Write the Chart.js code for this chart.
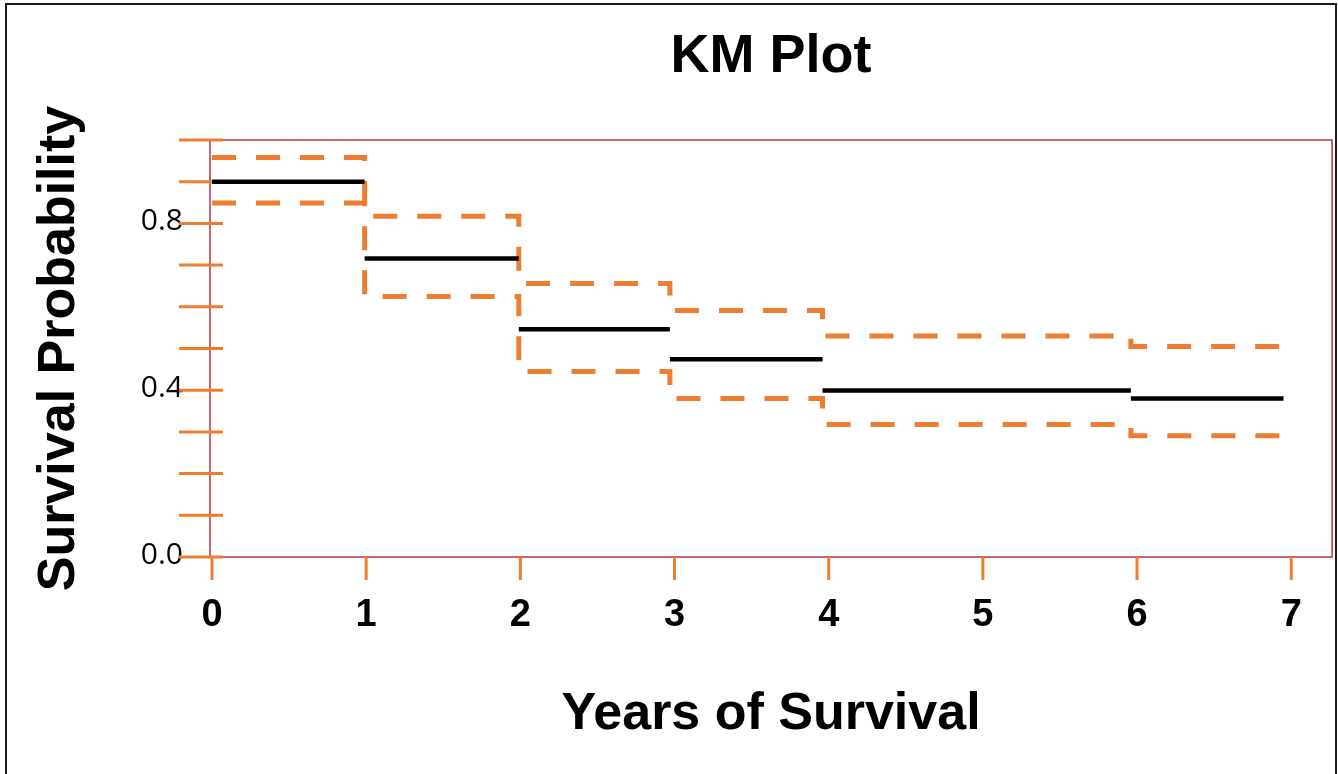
<!DOCTYPE html>
<html>
<head>
<meta charset="utf-8">
<script src="https://cdn.jsdelivr.net/npm/chart.js@4.4.1/dist/chart.umd.min.js"></script>
<style>
  html, body { margin: 0; padding: 0; background: #ffffff; overflow: hidden; }
  #wrap { position: relative; width: 1338px; height: 774px; }
  #frame { position: absolute; left: 5px; top: 3px; width: 1332px; height: 900px;
           box-sizing: border-box; border: 2px solid #1a1a1a; pointer-events: none; }
  canvas { position: absolute; left: 0; top: 0; }
</style>
</head>
<body>
<div id="wrap">
  <canvas id="km" width="1338" height="774"></canvas>
  <div id="frame"></div>
</div>
<script>
// ---- data ----
const stepTimes   = [0, 0.99, 1.99, 2.97, 3.96, 5.96];   // start of each interval (years)
const endTime     = 6.95;                               // end of last interval
const survival    = [0.900, 0.716, 0.546, 0.474, 0.399, 0.380];
const upperCI     = [0.958, 0.817, 0.656, 0.591, 0.530, 0.505];
const lowerCI     = [0.849, 0.625, 0.445, 0.380, 0.318, 0.291];
const xTickLabels = ['0', '1', '2', '3', '4', '5', '6', '7'];
const yLabelValues = [0.0, 0.4, 0.8];
const chartTitle  = 'KM Plot';
const xTitle      = 'Years of Survival';
const yTitle      = 'Survival Probability';

// ---- build datasets ----
function intervalEnd(i) { return i + 1 < stepTimes.length ? stepTimes[i + 1] : endTime; }

const kmSegments = [];
survival.forEach((s, i) => {
  kmSegments.push({ x: stepTimes[i], y: s });
  kmSegments.push({ x: intervalEnd(i), y: s });
  kmSegments.push({ x: intervalEnd(i), y: null });
});

function stepData(vals) {
  const d = vals.map((v, i) => ({ x: stepTimes[i], y: v }));
  d.push({ x: endTime, y: vals[vals.length - 1] });
  return d;
}

const ORANGE = '#ED7D31';
const FONT = '"Liberation Sans", Arial, sans-serif';

const decorPlugin = {
  id: 'decor',
  beforeDatasetsDraw(chart) {
    const { ctx, chartArea: a, scales } = chart;
    ctx.save();
    // plot border
    ctx.strokeStyle = '#b8303f';
    ctx.lineWidth = 1.5;
    ctx.strokeRect(a.left, a.top, a.right - a.left, a.bottom - a.top);
    // y tick marks
    ctx.strokeStyle = ORANGE;
    ctx.lineWidth = 3;
    scales.y.ticks.forEach(t => {
      const py = scales.y.getPixelForValue(t.value);
      ctx.beginPath();
      ctx.moveTo(a.left - 31, py);
      ctx.lineTo(a.left + 13, py);
      ctx.stroke();
    });
    // x tick marks
    scales.x.ticks.forEach(t => {
      const px = scales.x.getPixelForValue(t.value);
      ctx.beginPath();
      ctx.moveTo(px, a.bottom);
      ctx.lineTo(px, a.bottom + 23);
      ctx.stroke();
    });
    ctx.restore();
  }
};

new Chart(document.getElementById('km'), {
  type: 'line',
  data: {
    datasets: [
      {
        label: 'Upper CI',
        data: stepData(upperCI),
        stepped: 'before',
        borderColor: ORANGE,
        borderWidth: 5,
        borderDash: [24, 20],
        pointRadius: 0,
        fill: false,
        order: 2
      },
      {
        label: 'Lower CI',
        data: stepData(lowerCI),
        stepped: 'before',
        borderColor: ORANGE,
        borderWidth: 5,
        borderDash: [24, 20],
        pointRadius: 0,
        fill: false,
        order: 2
      },
      {
        label: 'Survival',
        data: kmSegments,
        borderColor: '#000000',
        borderWidth: 4.5,
        pointRadius: 0,
        spanGaps: false,
        fill: false,
        order: 1
      }
    ]
  },
  options: {
    responsive: false,
    maintainAspectRatio: false,
    animation: false,
    layout: { padding: { left: 0, right: 5, top: 0, bottom: 0 } },
    plugins: {
      legend: { display: false },
      tooltip: { enabled: false },
      title: {
        display: true,
        text: chartTitle,
        fullSize: false,
        color: '#000',
        font: { family: FONT, size: 54, weight: 'bold', lineHeight: 1.2 },
        padding: { top: 25, bottom: 50.2 }
      }
    },
    scales: {
      x: {
        type: 'linear',
        min: -0.013,
        max: 7.265,
        grid: { display: false, drawTicks: false },
        border: { display: false },
        ticks: {
          stepSize: 1,
          includeBounds: false,
          autoSkip: false,
          maxRotation: 0,
          padding: 36,
          color: '#000',
          font: { family: FONT, size: 38, weight: 'bold', lineHeight: 1.2 },
          callback: v => (Number.isInteger(v) && xTickLabels[v] !== undefined) ? xTickLabels[v] : ''
        },
        title: {
          display: true,
          text: xTitle,
          color: '#000',
          font: { family: FONT, size: 52, weight: 'bold', lineHeight: 1.2 },
          padding: { top: 0, bottom: 28 }
        },
        afterFit: s => { s.height = 217; }
      },
      y: {
        type: 'linear',
        min: 0,
        max: 1,
        grid: { display: false, drawTicks: false },
        border: { display: false },
        ticks: {
          stepSize: 0.1,
          autoSkip: false,
          padding: 27,
          labelOffset: -2,
          color: '#000',
          font: { family: '"Open Sans", sans-serif', size: 30 },
          callback: v => {
            const r = Math.round(v * 10) / 10;
            return yLabelValues.some(l => Math.abs(l - r) < 1e-9) ? r.toFixed(1) : '';
          }
        },
        title: {
          display: true,
          text: yTitle,
          color: '#000',
          font: { family: FONT, size: 52, weight: 'bold', lineHeight: 1.2 },
          padding: { top: 28, bottom: 0 }
        },
        afterFit: s => { s.width = 210; }
      }
    }
  },
  plugins: [decorPlugin]
});
</script>
</body>
</html>
